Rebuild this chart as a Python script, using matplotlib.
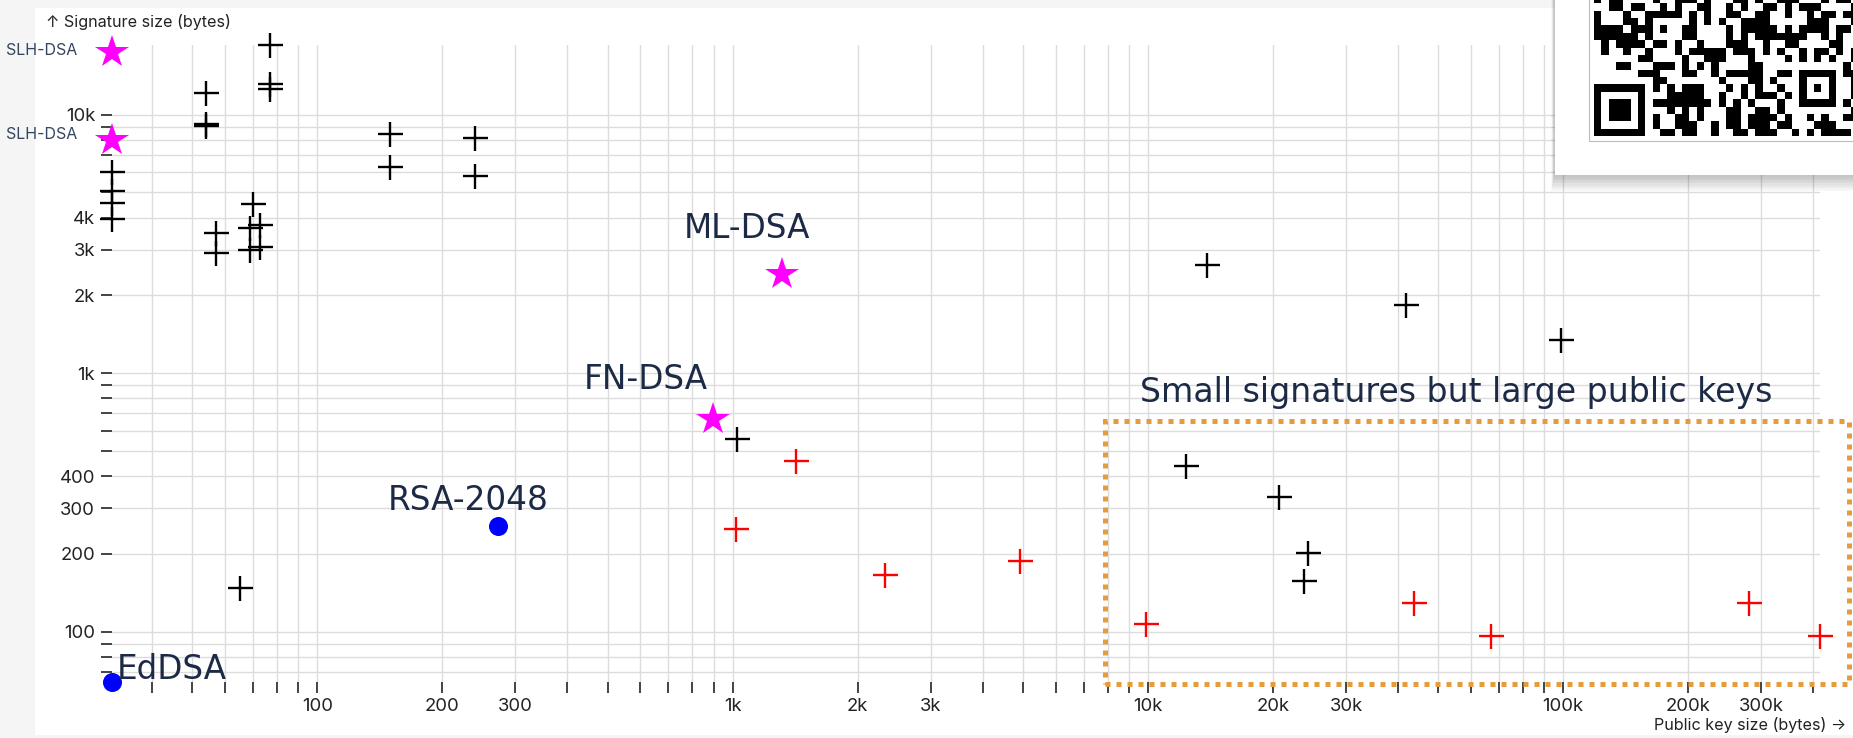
import matplotlib
matplotlib.use("Agg")
import matplotlib.pyplot as plt
import numpy as np
from matplotlib.patches import Rectangle
from matplotlib.transforms import Affine2D

W, H = 1853, 738

# ── data: (public key bytes, signature bytes) ────────────────────────────────
other_pk  = [32, 32, 32, 32, 54, 54, 54, 77, 77, 77, 57, 57, 70, 69, 69, 73, 73,
             150, 150, 240, 240, 65, 1026, 12330, 20700, 24300, 23800,
             13900, 41900, 98900]
other_sig = [6000, 5080, 4560, 3936, 12100, 9200, 9050, 18600, 13200, 12600,
             3476, 2924, 4514, 3635, 2997, 3741, 3084,
             8420, 6300, 8100, 5800, 148, 556, 437, 333, 201, 157,
             2628, 1837, 1340]

small_pk  = [1017, 1421, 2328, 4932, 9879, 43700, 66900, 280000, 414000]
small_sig = [249, 456, 166, 187, 107, 129, 96, 129, 96]

nist_names = ["ML-DSA", "FN-DSA", "SLH-DSA", "SLH-DSA"]
nist_pk    = [1312, 897, 32, 32]
nist_sig   = [2420, 666, 17500, 8000]

classic_names = ["EdDSA", "RSA-2048"]
classic_pk    = [32, 272]
classic_sig   = [64, 256]

x_ticks  = [v * m for m in (10, 100, 1000, 10000, 100000) for v in range(1, 10)]
x_ticks  = [v for v in x_ticks if 40 <= v <= 400000]
x_labels = [100, 200, 300, 1000, 2000, 3000, 10000, 20000, 30000,
            100000, 200000, 300000]
y_ticks  = [v * m for m in (10, 100, 1000) for v in range(1, 10)] + [10000]
y_ticks  = [v for v in y_ticks if v >= 70]
y_labels = [100, 200, 300, 400, 1000, 2000, 3000, 4000, 10000]


def fmt(v):
    return f"{v // 1000}k" if v >= 1000 else f"{v}"


NAVY = "#1c2a46"
TICK_FONT = ["Inter", "DejaVu Sans"]
ANNO_FONT = ["DejaVu Sans"]

fig = plt.figure(figsize=(W / 100, H / 100), dpi=100)
fig.patch.set_facecolor("#f5f5f5")
px = Affine2D().scale(1 / W, -1 / H).translate(0, 1) + fig.transFigure

# white card behind the chart
fig.add_artist(Rectangle((35, 8), W - 35, 727, transform=px,
                         facecolor="white", edgecolor="none", zorder=-1))

ax = fig.add_axes([111.7 / W, (H - 681.8) / H, (1819.5 - 111.7) / W,
                   (681.8 - 45) / H])
ax.set_facecolor("none")
ax.set_xscale("log")
ax.set_yscale("log")
ax.set_xlim(32, 414000)
ax.set_ylim(64, 18600)
for s in ax.spines.values():
    s.set_visible(False)

ax.set_xticks(x_ticks)
ax.set_xticklabels([fmt(v) if v in x_labels else "" for v in x_ticks])
ax.set_yticks(y_ticks)
ax.set_yticklabels([fmt(v) if v in y_labels else "" for v in y_ticks])
ax.minorticks_off()
ax.tick_params(length=7.9, width=1.1, color="#111111", labelcolor="#222222",
               labelsize=13.3)
ax.tick_params(axis="x", pad=3.5)
ax.tick_params(axis="y", pad=4)
for lab in ax.get_xticklabels() + ax.get_yticklabels():
    lab.set_family(TICK_FONT)
ax.grid(True, color="#dcdcdc", linewidth=1.0)
ax.set_axisbelow(True)

mk = dict(linestyle="none", clip_on=False)
ax.plot(other_pk, other_sig, marker="+", color="black", ms=18, mew=1.7, **mk)
ax.plot(small_pk, small_sig, marker="+", color="#ff0000", ms=18, mew=1.7, **mk)
ax.plot(nist_pk, nist_sig, marker="*", color="#ff00ff", ms=25, mew=0, **mk)
ax.plot(classic_pk, classic_sig, marker="o", color="#0000ff", ms=13.7, mew=0, **mk)

# labels next to points
big = dict(fontsize=23.5, color=NAVY, family=ANNO_FONT,
           textcoords="offset pixels", annotation_clip=False)
ax.annotate(classic_names[0], (classic_pk[0], classic_sig[0]), xytext=(5, 2.7),
            ha="left", va="baseline", **big)
ax.annotate(classic_names[1], (classic_pk[1], classic_sig[1]),
            xytext=(-29.5, 16.4), ha="center", va="baseline", **big)
ax.annotate(nist_names[0], (nist_pk[0], nist_sig[0]), xytext=(-35, 35.7),
            ha="center", va="baseline", **big)
ax.annotate(nist_names[1], (nist_pk[1], nist_sig[1]), xytext=(-67, 30),
            ha="center", va="baseline", **big)
small = dict(fontsize=11.5, color="#34455e", family=TICK_FONT,
             textcoords="offset pixels", annotation_clip=False,
             ha="right", va="center")
ax.annotate(nist_names[2], (nist_pk[2], nist_sig[2]), xytext=(-34.4, 1.7), **small)
ax.annotate(nist_names[3], (nist_pk[3], nist_sig[3]), xytext=(-34.4, 5.7), **small)

# highlighted region
ax.add_patch(Rectangle((7880, 62.8), 487000 - 7880, 653 - 62.8,
                       fill=False, edgecolor="#e69b3c", linewidth=3.6,
                       linestyle=(0, (1, 1.2)), clip_on=False, zorder=5))
ax.text(55100, 774, "Small signatures but large public keys", ha="center",
        va="baseline", fontsize=23.9, color=NAVY, family=ANNO_FONT)

# axis labels
fig.text(45.7 / W, 1 - 22.3 / H, "↑ Signature size (bytes)", ha="left",
         va="center", fontsize=11.6, color="#222222", family=TICK_FONT)
fig.text(1846.7 / W, 1 - 725 / H, "Public key size (bytes) →", ha="right",
         va="center", fontsize=11.6, color="#222222", family=TICK_FONT)

# QR-code overlay card (top right)
for i in range(10):
    fig.add_artist(Rectangle((1555 - 1 - i * 0.3, -10), W,
                             175 + 10 + 2 + i * 1.6, transform=px,
                             facecolor="black", alpha=0.025, edgecolor="none",
                             zorder=2))
fig.add_artist(Rectangle((1555, -10), W, 185, transform=px, facecolor="white",
                         edgecolor="none", zorder=3))
fig.add_artist(Rectangle((1589.3, -10), W, 150.7, transform=px, facecolor="white",
                         edgecolor="#bdbdbd", linewidth=0.8, zorder=3))

mod = 7.33
rows, cols = 19, 36
q = np.zeros((rows, cols))
for r in range(rows):
    for c in range(cols):
        h = (r * 73856093) ^ (c * 19349663) ^ 0x5BD1E995
        h = ((h ^ (h >> 13)) * 0x5BD1E995) % 4294967296
        h = h ^ (h >> 15)
        q[r, c] = (h >> 7) & 1
# finder pattern bottom-left
q[rows - 8:, :8] = 0
q[rows - 7:, :7] = 1
q[rows - 6:rows - 1, 1:6] = 0
q[rows - 5:rows - 2, 2:5] = 1
# alignment pattern
q[9:16, 27:34] = 0
q[10:15, 28:33] = 1
q[11:14, 29:32] = 0
q[12, 30] = 1
qax = fig.add_axes([1594.3 / W, (H - 135.7) / H, cols * mod / W, rows * mod / H],
                   zorder=4)
qax.imshow(q, cmap="gray_r", interpolation="nearest", aspect="auto")
qax.axis("off")

fig.savefig("out.png", dpi=100, facecolor=fig.get_facecolor())
